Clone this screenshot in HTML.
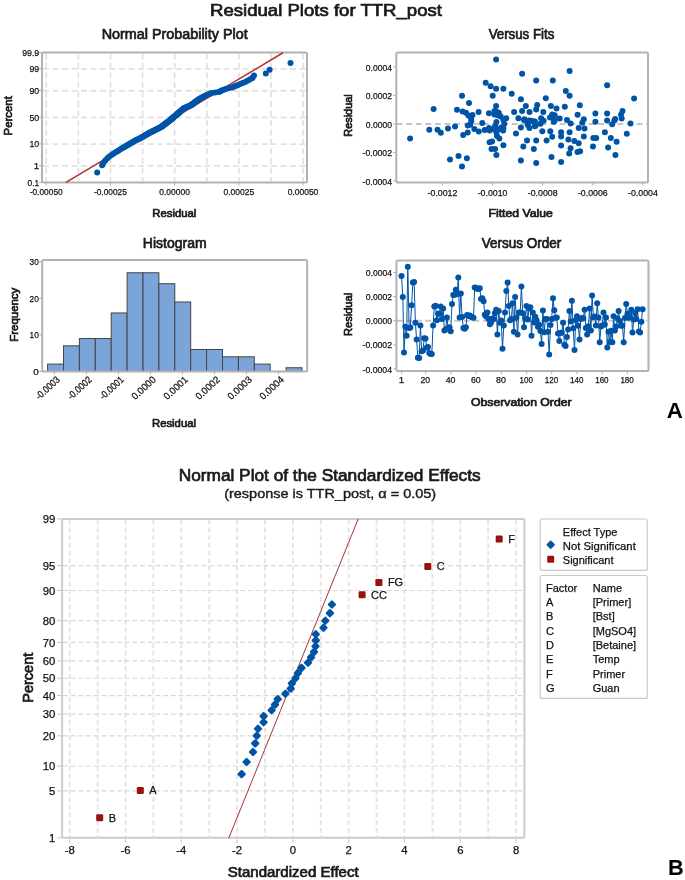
<!DOCTYPE html>
<html><head><meta charset="utf-8"><style>
html,body{margin:0;padding:0;background:#fff;}
body{width:685px;height:880px;overflow:hidden;}
svg{display:block;font-family:'Liberation Sans', sans-serif;will-change:transform;}
</style></head><body>
<svg width="685" height="880" viewBox="0 0 685 880">
<rect width="685" height="880" fill="#fff"/>
<text x="326.00" y="16.20" font-size="16.5" font-weight="normal" text-anchor="middle" fill="#1a1a1a" stroke="#1a1a1a" stroke-width="0.7" textLength="232" lengthAdjust="spacingAndGlyphs" >Residual Plots for TTR_post</text>
<text x="174.70" y="38.70" font-size="14" font-weight="normal" text-anchor="middle" fill="#1a1a1a" stroke="#1a1a1a" stroke-width="0.7" textLength="146" lengthAdjust="spacingAndGlyphs" >Normal Probability Plot</text>
<line x1="46.30" y1="53.5" x2="46.30" y2="181.5" stroke="#E0E0E0" stroke-width="1.6" stroke-dasharray="6 3.5"/>
<line x1="78.40" y1="53.5" x2="78.40" y2="181.5" stroke="#E0E0E0" stroke-width="1.6" stroke-dasharray="6 3.5"/>
<line x1="110.50" y1="53.5" x2="110.50" y2="181.5" stroke="#E0E0E0" stroke-width="1.6" stroke-dasharray="6 3.5"/>
<line x1="142.60" y1="53.5" x2="142.60" y2="181.5" stroke="#E0E0E0" stroke-width="1.6" stroke-dasharray="6 3.5"/>
<line x1="174.70" y1="53.5" x2="174.70" y2="181.5" stroke="#E0E0E0" stroke-width="1.6" stroke-dasharray="6 3.5"/>
<line x1="206.80" y1="53.5" x2="206.80" y2="181.5" stroke="#E0E0E0" stroke-width="1.6" stroke-dasharray="6 3.5"/>
<line x1="238.90" y1="53.5" x2="238.90" y2="181.5" stroke="#E0E0E0" stroke-width="1.6" stroke-dasharray="6 3.5"/>
<line x1="271.00" y1="53.5" x2="271.00" y2="181.5" stroke="#E0E0E0" stroke-width="1.6" stroke-dasharray="6 3.5"/>
<line x1="303.10" y1="53.5" x2="303.10" y2="181.5" stroke="#E0E0E0" stroke-width="1.6" stroke-dasharray="6 3.5"/>
<line x1="43" y1="68.90" x2="306" y2="68.90" stroke="#E2E2E2" stroke-width="1.9" stroke-dasharray="6 3.5"/>
<line x1="43" y1="90.68" x2="306" y2="90.68" stroke="#E2E2E2" stroke-width="1.9" stroke-dasharray="6 3.5"/>
<line x1="43" y1="117.40" x2="306" y2="117.40" stroke="#E2E2E2" stroke-width="1.9" stroke-dasharray="6 3.5"/>
<line x1="43" y1="144.12" x2="306" y2="144.12" stroke="#E2E2E2" stroke-width="1.9" stroke-dasharray="6 3.5"/>
<line x1="43" y1="165.90" x2="306" y2="165.90" stroke="#E2E2E2" stroke-width="1.9" stroke-dasharray="6 3.5"/>
<line x1="39" y1="52.50" x2="42" y2="52.50" stroke="#AAAAAA" stroke-width="1"/>
<text x="39.20" y="55.90" font-size="9.8" font-weight="normal" text-anchor="end" fill="#111" stroke="#111" stroke-width="0.25" textLength="17" lengthAdjust="spacingAndGlyphs" >99.9</text>
<line x1="39" y1="68.70" x2="42" y2="68.70" stroke="#AAAAAA" stroke-width="1"/>
<text x="39.20" y="72.10" font-size="9.8" font-weight="normal" text-anchor="end" fill="#111" stroke="#111" stroke-width="0.25" textLength="9.8" lengthAdjust="spacingAndGlyphs" >99</text>
<line x1="39" y1="90.48" x2="42" y2="90.48" stroke="#AAAAAA" stroke-width="1"/>
<text x="39.20" y="93.88" font-size="9.8" font-weight="normal" text-anchor="end" fill="#111" stroke="#111" stroke-width="0.25" textLength="9.8" lengthAdjust="spacingAndGlyphs" >90</text>
<line x1="39" y1="117.20" x2="42" y2="117.20" stroke="#AAAAAA" stroke-width="1"/>
<text x="39.20" y="120.60" font-size="9.8" font-weight="normal" text-anchor="end" fill="#111" stroke="#111" stroke-width="0.25" textLength="9.8" lengthAdjust="spacingAndGlyphs" >50</text>
<line x1="39" y1="143.92" x2="42" y2="143.92" stroke="#AAAAAA" stroke-width="1"/>
<text x="39.20" y="147.32" font-size="9.8" font-weight="normal" text-anchor="end" fill="#111" stroke="#111" stroke-width="0.25" textLength="9.8" lengthAdjust="spacingAndGlyphs" >10</text>
<line x1="39" y1="165.70" x2="42" y2="165.70" stroke="#AAAAAA" stroke-width="1"/>
<text x="39.20" y="169.10" font-size="9.8" font-weight="normal" text-anchor="end" fill="#111" stroke="#111" stroke-width="0.25" >1</text>
<line x1="39" y1="182.50" x2="42" y2="182.50" stroke="#AAAAAA" stroke-width="1"/>
<text x="39.20" y="185.90" font-size="9.8" font-weight="normal" text-anchor="end" fill="#111" stroke="#111" stroke-width="0.25" textLength="11.6" lengthAdjust="spacingAndGlyphs" >0.1</text>
<line x1="46.20" y1="182.5" x2="46.20" y2="185.5" stroke="#AAAAAA" stroke-width="1"/>
<text x="46.20" y="195.40" font-size="9.8" font-weight="normal" text-anchor="middle" fill="#111" stroke="#111" stroke-width="0.25" textLength="33" lengthAdjust="spacingAndGlyphs" >-0.00050</text>
<line x1="110.40" y1="182.5" x2="110.40" y2="185.5" stroke="#AAAAAA" stroke-width="1"/>
<text x="110.40" y="195.40" font-size="9.8" font-weight="normal" text-anchor="middle" fill="#111" stroke="#111" stroke-width="0.25" textLength="33" lengthAdjust="spacingAndGlyphs" >-0.00025</text>
<line x1="174.60" y1="182.5" x2="174.60" y2="185.5" stroke="#AAAAAA" stroke-width="1"/>
<text x="174.60" y="195.40" font-size="9.8" font-weight="normal" text-anchor="middle" fill="#111" stroke="#111" stroke-width="0.25" textLength="30.7" lengthAdjust="spacingAndGlyphs" >0.00000</text>
<line x1="238.80" y1="182.5" x2="238.80" y2="185.5" stroke="#AAAAAA" stroke-width="1"/>
<text x="238.80" y="195.40" font-size="9.8" font-weight="normal" text-anchor="middle" fill="#111" stroke="#111" stroke-width="0.25" textLength="30.7" lengthAdjust="spacingAndGlyphs" >0.00025</text>
<line x1="303.00" y1="182.5" x2="303.00" y2="185.5" stroke="#AAAAAA" stroke-width="1"/>
<text x="303.00" y="195.40" font-size="9.8" font-weight="normal" text-anchor="middle" fill="#111" stroke="#111" stroke-width="0.25" textLength="30.7" lengthAdjust="spacingAndGlyphs" >0.00050</text>
<text x="174.30" y="216.50" font-size="11" font-weight="normal" text-anchor="middle" fill="#1a1a1a" stroke="#1a1a1a" stroke-width="0.7" textLength="44" lengthAdjust="spacingAndGlyphs" >Residual</text>
<text x="12.00" y="115.80" font-size="11" font-weight="normal" text-anchor="middle" fill="#1a1a1a" stroke="#1a1a1a" stroke-width="0.7" textLength="39.2" lengthAdjust="spacingAndGlyphs" transform="rotate(-90 12 115.8)">Percent</text>
<rect x="42" y="52.5" width="265.00" height="130.00" rx="1.5" fill="none" stroke="#B2B2B2" stroke-width="2"/>
<line x1="66" y1="182.4" x2="283" y2="52.8" stroke="#B83232" stroke-width="1.6"/>
<g fill="#0054A6">
<circle cx="97.2" cy="172.4" r="3"/>
<circle cx="102.1" cy="165.2" r="3"/>
<circle cx="103.4" cy="163.0" r="3"/>
<circle cx="105.3" cy="160.4" r="3"/>
<circle cx="107.4" cy="158.3" r="3"/>
<circle cx="109.4" cy="156.5" r="3"/>
<circle cx="111.5" cy="155.0" r="3"/>
<circle cx="113.3" cy="153.7" r="3"/>
<circle cx="115.2" cy="152.5" r="3"/>
<circle cx="116.9" cy="151.4" r="3"/>
<circle cx="118.6" cy="150.4" r="3"/>
<circle cx="120.1" cy="149.5" r="3"/>
<circle cx="121.6" cy="148.6" r="3"/>
<circle cx="123.0" cy="147.8" r="3"/>
<circle cx="124.3" cy="147.0" r="3"/>
<circle cx="125.6" cy="146.3" r="3"/>
<circle cx="126.8" cy="145.6" r="3"/>
<circle cx="127.9" cy="144.9" r="3"/>
<circle cx="129.0" cy="144.3" r="3"/>
<circle cx="130.1" cy="143.6" r="3"/>
<circle cx="131.1" cy="143.0" r="3"/>
<circle cx="132.0" cy="142.5" r="3"/>
<circle cx="133.0" cy="141.9" r="3"/>
<circle cx="133.9" cy="141.4" r="3"/>
<circle cx="134.8" cy="140.8" r="3"/>
<circle cx="135.8" cy="140.3" r="3"/>
<circle cx="136.8" cy="139.8" r="3"/>
<circle cx="137.7" cy="139.4" r="3"/>
<circle cx="138.7" cy="138.9" r="3"/>
<circle cx="139.6" cy="138.4" r="3"/>
<circle cx="140.5" cy="138.0" r="3"/>
<circle cx="141.4" cy="137.5" r="3"/>
<circle cx="142.2" cy="137.1" r="3"/>
<circle cx="143.0" cy="136.7" r="3"/>
<circle cx="143.7" cy="136.3" r="3"/>
<circle cx="144.4" cy="135.8" r="3"/>
<circle cx="145.0" cy="135.4" r="3"/>
<circle cx="145.7" cy="135.1" r="3"/>
<circle cx="146.3" cy="134.7" r="3"/>
<circle cx="147.0" cy="134.3" r="3"/>
<circle cx="147.6" cy="133.9" r="3"/>
<circle cx="148.2" cy="133.5" r="3"/>
<circle cx="148.8" cy="133.2" r="3"/>
<circle cx="149.5" cy="132.8" r="3"/>
<circle cx="150.2" cy="132.4" r="3"/>
<circle cx="150.9" cy="132.1" r="3"/>
<circle cx="151.6" cy="131.7" r="3"/>
<circle cx="152.3" cy="131.4" r="3"/>
<circle cx="153.0" cy="131.1" r="3"/>
<circle cx="153.7" cy="130.7" r="3"/>
<circle cx="154.3" cy="130.4" r="3"/>
<circle cx="155.0" cy="130.1" r="3"/>
<circle cx="155.6" cy="129.7" r="3"/>
<circle cx="156.3" cy="129.4" r="3"/>
<circle cx="157.0" cy="129.1" r="3"/>
<circle cx="157.6" cy="128.8" r="3"/>
<circle cx="158.2" cy="128.5" r="3"/>
<circle cx="158.9" cy="128.1" r="3"/>
<circle cx="159.5" cy="127.8" r="3"/>
<circle cx="160.1" cy="127.5" r="3"/>
<circle cx="160.8" cy="127.2" r="3"/>
<circle cx="161.2" cy="126.9" r="3"/>
<circle cx="161.6" cy="126.6" r="3"/>
<circle cx="162.0" cy="126.3" r="3"/>
<circle cx="162.4" cy="126.0" r="3"/>
<circle cx="162.8" cy="125.7" r="3"/>
<circle cx="163.2" cy="125.4" r="3"/>
<circle cx="163.6" cy="125.1" r="3"/>
<circle cx="164.0" cy="124.8" r="3"/>
<circle cx="164.4" cy="124.5" r="3"/>
<circle cx="164.8" cy="124.3" r="3"/>
<circle cx="165.1" cy="124.0" r="3"/>
<circle cx="165.5" cy="123.7" r="3"/>
<circle cx="165.9" cy="123.4" r="3"/>
<circle cx="166.3" cy="123.1" r="3"/>
<circle cx="166.6" cy="122.8" r="3"/>
<circle cx="167.0" cy="122.6" r="3"/>
<circle cx="167.4" cy="122.3" r="3"/>
<circle cx="167.7" cy="122.0" r="3"/>
<circle cx="168.1" cy="121.7" r="3"/>
<circle cx="168.5" cy="121.4" r="3"/>
<circle cx="168.8" cy="121.2" r="3"/>
<circle cx="169.2" cy="120.9" r="3"/>
<circle cx="169.5" cy="120.6" r="3"/>
<circle cx="169.8" cy="120.3" r="3"/>
<circle cx="170.2" cy="120.1" r="3"/>
<circle cx="170.5" cy="119.8" r="3"/>
<circle cx="170.8" cy="119.5" r="3"/>
<circle cx="171.1" cy="119.2" r="3"/>
<circle cx="171.5" cy="119.0" r="3"/>
<circle cx="171.8" cy="118.7" r="3"/>
<circle cx="172.1" cy="118.4" r="3"/>
<circle cx="172.4" cy="118.2" r="3"/>
<circle cx="172.8" cy="117.9" r="3"/>
<circle cx="173.1" cy="117.6" r="3"/>
<circle cx="173.4" cy="117.3" r="3"/>
<circle cx="173.7" cy="117.1" r="3"/>
<circle cx="174.0" cy="116.8" r="3"/>
<circle cx="174.4" cy="116.5" r="3"/>
<circle cx="174.7" cy="116.2" r="3"/>
<circle cx="175.0" cy="116.0" r="3"/>
<circle cx="175.3" cy="115.7" r="3"/>
<circle cx="175.7" cy="115.4" r="3"/>
<circle cx="176.0" cy="115.2" r="3"/>
<circle cx="176.3" cy="114.9" r="3"/>
<circle cx="176.6" cy="114.6" r="3"/>
<circle cx="177.0" cy="114.3" r="3"/>
<circle cx="177.3" cy="114.1" r="3"/>
<circle cx="177.6" cy="113.8" r="3"/>
<circle cx="177.9" cy="113.5" r="3"/>
<circle cx="178.3" cy="113.2" r="3"/>
<circle cx="178.6" cy="113.0" r="3"/>
<circle cx="178.9" cy="112.7" r="3"/>
<circle cx="179.2" cy="112.4" r="3"/>
<circle cx="179.5" cy="112.1" r="3"/>
<circle cx="179.9" cy="111.8" r="3"/>
<circle cx="180.2" cy="111.6" r="3"/>
<circle cx="180.5" cy="111.3" r="3"/>
<circle cx="180.8" cy="111.0" r="3"/>
<circle cx="181.2" cy="110.7" r="3"/>
<circle cx="181.5" cy="110.4" r="3"/>
<circle cx="181.8" cy="110.1" r="3"/>
<circle cx="182.2" cy="109.9" r="3"/>
<circle cx="182.5" cy="109.6" r="3"/>
<circle cx="182.8" cy="109.3" r="3"/>
<circle cx="183.2" cy="109.0" r="3"/>
<circle cx="183.5" cy="108.7" r="3"/>
<circle cx="183.9" cy="108.4" r="3"/>
<circle cx="184.2" cy="108.1" r="3"/>
<circle cx="184.9" cy="107.8" r="3"/>
<circle cx="185.7" cy="107.5" r="3"/>
<circle cx="186.4" cy="107.2" r="3"/>
<circle cx="187.1" cy="106.9" r="3"/>
<circle cx="187.9" cy="106.6" r="3"/>
<circle cx="188.6" cy="106.3" r="3"/>
<circle cx="189.4" cy="105.9" r="3"/>
<circle cx="190.1" cy="105.6" r="3"/>
<circle cx="190.9" cy="105.3" r="3"/>
<circle cx="191.3" cy="105.0" r="3"/>
<circle cx="191.7" cy="104.7" r="3"/>
<circle cx="192.2" cy="104.3" r="3"/>
<circle cx="192.6" cy="104.0" r="3"/>
<circle cx="193.1" cy="103.7" r="3"/>
<circle cx="193.5" cy="103.3" r="3"/>
<circle cx="194.0" cy="103.0" r="3"/>
<circle cx="194.4" cy="102.7" r="3"/>
<circle cx="194.9" cy="102.3" r="3"/>
<circle cx="195.4" cy="102.0" r="3"/>
<circle cx="195.8" cy="101.6" r="3"/>
<circle cx="196.3" cy="101.2" r="3"/>
<circle cx="196.8" cy="100.9" r="3"/>
<circle cx="197.3" cy="100.5" r="3"/>
<circle cx="197.8" cy="100.1" r="3"/>
<circle cx="198.3" cy="99.7" r="3"/>
<circle cx="198.9" cy="99.3" r="3"/>
<circle cx="199.6" cy="99.0" r="3"/>
<circle cx="200.3" cy="98.6" r="3"/>
<circle cx="201.0" cy="98.1" r="3"/>
<circle cx="201.8" cy="97.7" r="3"/>
<circle cx="202.5" cy="97.3" r="3"/>
<circle cx="203.2" cy="96.9" r="3"/>
<circle cx="204.0" cy="96.4" r="3"/>
<circle cx="204.8" cy="96.0" r="3"/>
<circle cx="205.8" cy="95.5" r="3"/>
<circle cx="206.9" cy="95.0" r="3"/>
<circle cx="208.0" cy="94.6" r="3"/>
<circle cx="209.2" cy="94.1" r="3"/>
<circle cx="210.4" cy="93.6" r="3"/>
<circle cx="211.6" cy="93.0" r="3"/>
<circle cx="215.1" cy="92.5" r="3"/>
<circle cx="218.6" cy="91.9" r="3"/>
<circle cx="219.9" cy="91.4" r="3"/>
<circle cx="221.3" cy="90.8" r="3"/>
<circle cx="222.8" cy="90.1" r="3"/>
<circle cx="224.3" cy="89.5" r="3"/>
<circle cx="226.5" cy="88.8" r="3"/>
<circle cx="229.3" cy="88.1" r="3"/>
<circle cx="232.2" cy="87.4" r="3"/>
<circle cx="234.2" cy="86.6" r="3"/>
<circle cx="236.1" cy="85.8" r="3"/>
<circle cx="238.1" cy="84.9" r="3"/>
<circle cx="240.3" cy="84.0" r="3"/>
<circle cx="242.6" cy="83.0" r="3"/>
<circle cx="245.2" cy="81.9" r="3"/>
<circle cx="247.5" cy="80.7" r="3"/>
<circle cx="249.8" cy="79.4" r="3"/>
<circle cx="252.4" cy="77.9" r="3"/>
<circle cx="252.5" cy="77.8" r="3"/>
<circle cx="254.0" cy="75.5" r="3"/>
<circle cx="265.8" cy="73.6" r="3"/>
<circle cx="269.6" cy="69.8" r="3"/>
<circle cx="290.5" cy="63.0" r="3"/>
</g>
<text x="521.50" y="38.70" font-size="14" font-weight="normal" text-anchor="middle" fill="#1a1a1a" stroke="#1a1a1a" stroke-width="0.7" textLength="65.7" lengthAdjust="spacingAndGlyphs" >Versus Fits</text>
<line x1="393.3" y1="66.90" x2="396.3" y2="66.90" stroke="#AAAAAA" stroke-width="1"/>
<text x="392.00" y="70.50" font-size="9.8" font-weight="normal" text-anchor="end" fill="#111" stroke="#111" stroke-width="0.25" textLength="26.2" lengthAdjust="spacingAndGlyphs" >0.0004</text>
<line x1="393.3" y1="95.40" x2="396.3" y2="95.40" stroke="#AAAAAA" stroke-width="1"/>
<text x="392.00" y="99.00" font-size="9.8" font-weight="normal" text-anchor="end" fill="#111" stroke="#111" stroke-width="0.25" textLength="26.2" lengthAdjust="spacingAndGlyphs" >0.0002</text>
<line x1="393.3" y1="123.90" x2="396.3" y2="123.90" stroke="#AAAAAA" stroke-width="1"/>
<text x="392.00" y="127.50" font-size="9.8" font-weight="normal" text-anchor="end" fill="#111" stroke="#111" stroke-width="0.25" textLength="26.2" lengthAdjust="spacingAndGlyphs" >0.0000</text>
<line x1="393.3" y1="152.40" x2="396.3" y2="152.40" stroke="#AAAAAA" stroke-width="1"/>
<text x="392.00" y="156.00" font-size="9.8" font-weight="normal" text-anchor="end" fill="#111" stroke="#111" stroke-width="0.25" textLength="29.5" lengthAdjust="spacingAndGlyphs" >-0.0002</text>
<line x1="393.3" y1="180.90" x2="396.3" y2="180.90" stroke="#AAAAAA" stroke-width="1"/>
<text x="392.00" y="184.50" font-size="9.8" font-weight="normal" text-anchor="end" fill="#111" stroke="#111" stroke-width="0.25" textLength="29.5" lengthAdjust="spacingAndGlyphs" >-0.0004</text>
<line x1="442.50" y1="182.5" x2="442.50" y2="185.5" stroke="#AAAAAA" stroke-width="1"/>
<text x="442.50" y="195.50" font-size="9.8" font-weight="normal" text-anchor="middle" fill="#111" stroke="#111" stroke-width="0.25" textLength="29.8" lengthAdjust="spacingAndGlyphs" >-0.0012</text>
<line x1="492.60" y1="182.5" x2="492.60" y2="185.5" stroke="#AAAAAA" stroke-width="1"/>
<text x="492.60" y="195.50" font-size="9.8" font-weight="normal" text-anchor="middle" fill="#111" stroke="#111" stroke-width="0.25" textLength="29.8" lengthAdjust="spacingAndGlyphs" >-0.0010</text>
<line x1="542.70" y1="182.5" x2="542.70" y2="185.5" stroke="#AAAAAA" stroke-width="1"/>
<text x="542.70" y="195.50" font-size="9.8" font-weight="normal" text-anchor="middle" fill="#111" stroke="#111" stroke-width="0.25" textLength="29.8" lengthAdjust="spacingAndGlyphs" >-0.0008</text>
<line x1="592.80" y1="182.5" x2="592.80" y2="185.5" stroke="#AAAAAA" stroke-width="1"/>
<text x="592.80" y="195.50" font-size="9.8" font-weight="normal" text-anchor="middle" fill="#111" stroke="#111" stroke-width="0.25" textLength="29.8" lengthAdjust="spacingAndGlyphs" >-0.0006</text>
<line x1="642.90" y1="182.5" x2="642.90" y2="185.5" stroke="#AAAAAA" stroke-width="1"/>
<text x="642.90" y="195.50" font-size="9.8" font-weight="normal" text-anchor="middle" fill="#111" stroke="#111" stroke-width="0.25" textLength="29.8" lengthAdjust="spacingAndGlyphs" >-0.0004</text>
<text x="520.70" y="216.80" font-size="11" font-weight="normal" text-anchor="middle" fill="#1a1a1a" stroke="#1a1a1a" stroke-width="0.7" textLength="64.4" lengthAdjust="spacingAndGlyphs" >Fitted Value</text>
<text x="352.00" y="115.50" font-size="11" font-weight="normal" text-anchor="middle" fill="#1a1a1a" stroke="#1a1a1a" stroke-width="0.7" textLength="42.5" lengthAdjust="spacingAndGlyphs" transform="rotate(-90 352 115.5)">Residual</text>
<line x1="396.6" y1="123.90" x2="647" y2="123.90" stroke="#C4C4C4" stroke-width="2" stroke-dasharray="5.8 3.8"/>
<rect x="396.3" y="52.5" width="251.70" height="130.00" rx="1.5" fill="none" stroke="#B2B2B2" stroke-width="2"/>
<g fill="#0054A6">
<circle cx="433.6" cy="108.9" r="3"/>
<circle cx="462.0" cy="95.8" r="3"/>
<circle cx="469.0" cy="103.0" r="3"/>
<circle cx="457.0" cy="109.8" r="3"/>
<circle cx="462.6" cy="111.6" r="3"/>
<circle cx="466.0" cy="112.7" r="3"/>
<circle cx="468.4" cy="115.6" r="3"/>
<circle cx="472.5" cy="115.0" r="3"/>
<circle cx="471.3" cy="120.9" r="3"/>
<circle cx="467.8" cy="125.6" r="3"/>
<circle cx="455.0" cy="126.4" r="3"/>
<circle cx="448.0" cy="128.5" r="3"/>
<circle cx="429.3" cy="129.7" r="3"/>
<circle cx="437.5" cy="129.7" r="3"/>
<circle cx="474.3" cy="129.0" r="3"/>
<circle cx="410.1" cy="138.4" r="3"/>
<circle cx="440.8" cy="132.7" r="3"/>
<circle cx="463.2" cy="134.9" r="3"/>
<circle cx="467.7" cy="132.4" r="3"/>
<circle cx="470.2" cy="124.7" r="3"/>
<circle cx="478.8" cy="131.5" r="3"/>
<circle cx="450.0" cy="159.4" r="3"/>
<circle cx="458.5" cy="156.0" r="3"/>
<circle cx="466.9" cy="158.2" r="3"/>
<circle cx="462.0" cy="166.4" r="3"/>
<circle cx="496.1" cy="59.6" r="3"/>
<circle cx="522.1" cy="73.7" r="3"/>
<circle cx="536.2" cy="80.6" r="3"/>
<circle cx="552.8" cy="80.6" r="3"/>
<circle cx="485.7" cy="82.7" r="3"/>
<circle cx="490.6" cy="86.3" r="3"/>
<circle cx="496.1" cy="88.8" r="3"/>
<circle cx="503.4" cy="88.8" r="3"/>
<circle cx="511.7" cy="93.7" r="3"/>
<circle cx="492.7" cy="95.8" r="3"/>
<circle cx="520.9" cy="99.2" r="3"/>
<circle cx="545.8" cy="98.2" r="3"/>
<circle cx="496.1" cy="106.0" r="3"/>
<circle cx="525.8" cy="106.0" r="3"/>
<circle cx="537.2" cy="105.0" r="3"/>
<circle cx="550.9" cy="106.0" r="3"/>
<circle cx="478.6" cy="112.1" r="3"/>
<circle cx="489.0" cy="113.3" r="3"/>
<circle cx="494.5" cy="110.9" r="3"/>
<circle cx="498.8" cy="112.7" r="3"/>
<circle cx="514.1" cy="112.1" r="3"/>
<circle cx="522.1" cy="110.9" r="3"/>
<circle cx="529.5" cy="112.1" r="3"/>
<circle cx="536.2" cy="109.6" r="3"/>
<circle cx="543.3" cy="112.1" r="3"/>
<circle cx="494.5" cy="114.5" r="3"/>
<circle cx="500.7" cy="116.4" r="3"/>
<circle cx="506.2" cy="118.2" r="3"/>
<circle cx="518.4" cy="118.2" r="3"/>
<circle cx="524.0" cy="120.0" r="3"/>
<circle cx="531.3" cy="120.7" r="3"/>
<circle cx="541.1" cy="118.2" r="3"/>
<circle cx="543.6" cy="120.7" r="3"/>
<circle cx="482.3" cy="123.1" r="3"/>
<circle cx="496.4" cy="121.9" r="3"/>
<circle cx="552.2" cy="114.5" r="3"/>
<circle cx="484.7" cy="130.0" r="3"/>
<circle cx="489.0" cy="128.1" r="3"/>
<circle cx="489.6" cy="130.6" r="3"/>
<circle cx="494.5" cy="128.7" r="3"/>
<circle cx="496.4" cy="132.4" r="3"/>
<circle cx="497.0" cy="136.1" r="3"/>
<circle cx="499.4" cy="138.5" r="3"/>
<circle cx="501.3" cy="127.5" r="3"/>
<circle cx="503.1" cy="130.6" r="3"/>
<circle cx="504.3" cy="123.8" r="3"/>
<circle cx="489.6" cy="142.2" r="3"/>
<circle cx="492.1" cy="141.6" r="3"/>
<circle cx="491.5" cy="149.0" r="3"/>
<circle cx="495.1" cy="149.0" r="3"/>
<circle cx="496.4" cy="155.1" r="3"/>
<circle cx="503.4" cy="145.3" r="3"/>
<circle cx="516.0" cy="133.6" r="3"/>
<circle cx="520.9" cy="127.5" r="3"/>
<circle cx="527.6" cy="123.8" r="3"/>
<circle cx="529.5" cy="128.1" r="3"/>
<circle cx="533.8" cy="121.4" r="3"/>
<circle cx="535.6" cy="125.6" r="3"/>
<circle cx="540.5" cy="123.8" r="3"/>
<circle cx="542.3" cy="131.2" r="3"/>
<circle cx="550.3" cy="131.2" r="3"/>
<circle cx="552.2" cy="136.7" r="3"/>
<circle cx="527.0" cy="140.4" r="3"/>
<circle cx="536.2" cy="140.4" r="3"/>
<circle cx="546.6" cy="140.4" r="3"/>
<circle cx="523.3" cy="146.5" r="3"/>
<circle cx="533.8" cy="149.0" r="3"/>
<circle cx="520.9" cy="160.6" r="3"/>
<circle cx="536.2" cy="163.0" r="3"/>
<circle cx="551.5" cy="156.9" r="3"/>
<circle cx="569.6" cy="71.0" r="3"/>
<circle cx="607.1" cy="85.3" r="3"/>
<circle cx="565.8" cy="91.1" r="3"/>
<circle cx="569.6" cy="95.8" r="3"/>
<circle cx="634.1" cy="98.4" r="3"/>
<circle cx="556.5" cy="108.6" r="3"/>
<circle cx="564.8" cy="106.7" r="3"/>
<circle cx="579.8" cy="105.3" r="3"/>
<circle cx="553.8" cy="115.5" r="3"/>
<circle cx="559.7" cy="118.4" r="3"/>
<circle cx="553.8" cy="121.8" r="3"/>
<circle cx="567.0" cy="119.9" r="3"/>
<circle cx="570.6" cy="123.5" r="3"/>
<circle cx="577.6" cy="114.8" r="3"/>
<circle cx="583.8" cy="119.2" r="3"/>
<circle cx="582.3" cy="122.8" r="3"/>
<circle cx="595.4" cy="113.6" r="3"/>
<circle cx="595.4" cy="121.8" r="3"/>
<circle cx="607.1" cy="113.6" r="3"/>
<circle cx="607.1" cy="120.6" r="3"/>
<circle cx="614.4" cy="120.6" r="3"/>
<circle cx="612.2" cy="124.3" r="3"/>
<circle cx="622.5" cy="111.1" r="3"/>
<circle cx="621.0" cy="114.8" r="3"/>
<circle cx="621.7" cy="118.4" r="3"/>
<circle cx="630.5" cy="123.5" r="3"/>
<circle cx="561.1" cy="132.2" r="3"/>
<circle cx="561.1" cy="136.6" r="3"/>
<circle cx="569.6" cy="132.2" r="3"/>
<circle cx="568.4" cy="139.5" r="3"/>
<circle cx="574.3" cy="141.0" r="3"/>
<circle cx="578.7" cy="143.2" r="3"/>
<circle cx="583.8" cy="136.6" r="3"/>
<circle cx="578.7" cy="127.9" r="3"/>
<circle cx="584.5" cy="128.6" r="3"/>
<circle cx="561.1" cy="145.4" r="3"/>
<circle cx="570.6" cy="148.3" r="3"/>
<circle cx="569.2" cy="153.4" r="3"/>
<circle cx="580.1" cy="151.2" r="3"/>
<circle cx="577.5" cy="152.0" r="3"/>
<circle cx="561.1" cy="161.9" r="3"/>
<circle cx="593.3" cy="138.1" r="3"/>
<circle cx="596.2" cy="138.1" r="3"/>
<circle cx="593.0" cy="146.4" r="3"/>
<circle cx="604.9" cy="132.2" r="3"/>
<circle cx="610.8" cy="138.1" r="3"/>
<circle cx="616.6" cy="141.7" r="3"/>
<circle cx="608.1" cy="147.6" r="3"/>
<circle cx="615.4" cy="154.9" r="3"/>
<circle cx="626.8" cy="133.7" r="3"/>
<circle cx="615.2" cy="119.1" r="3"/>
<circle cx="471.2" cy="118.8" r="3"/>
<circle cx="524.4" cy="119.3" r="3"/>
<circle cx="529.0" cy="120.4" r="3"/>
<circle cx="534.9" cy="121.6" r="3"/>
<circle cx="527.9" cy="125.1" r="3"/>
<circle cx="534.9" cy="126.3" r="3"/>
<circle cx="495.2" cy="125.7" r="3"/>
<circle cx="503.4" cy="128.0" r="3"/>
<circle cx="498.7" cy="129.2" r="3"/>
<circle cx="491.7" cy="129.2" r="3"/>
<circle cx="503.4" cy="119.9" r="3"/>
<circle cx="497.5" cy="115.2" r="3"/>
<circle cx="496.4" cy="111.7" r="3"/>
<circle cx="550.0" cy="117.5" r="3"/>
<circle cx="554.7" cy="115.2" r="3"/>
<circle cx="554.7" cy="120.4" r="3"/>
</g>
<text x="174.70" y="248.10" font-size="14" font-weight="normal" text-anchor="middle" fill="#1a1a1a" stroke="#1a1a1a" stroke-width="0.7" textLength="63.8" lengthAdjust="spacingAndGlyphs" >Histogram</text>
<line x1="39.2" y1="371.40" x2="42.2" y2="371.40" stroke="#AAAAAA" stroke-width="1"/>
<text x="38.80" y="374.80" font-size="9.8" font-weight="normal" text-anchor="end" fill="#111" stroke="#111" stroke-width="0.25" >0</text>
<line x1="39.2" y1="334.87" x2="42.2" y2="334.87" stroke="#AAAAAA" stroke-width="1"/>
<text x="38.80" y="338.27" font-size="9.8" font-weight="normal" text-anchor="end" fill="#111" stroke="#111" stroke-width="0.25" textLength="9.2" lengthAdjust="spacingAndGlyphs" >10</text>
<line x1="39.2" y1="298.34" x2="42.2" y2="298.34" stroke="#AAAAAA" stroke-width="1"/>
<text x="38.80" y="301.74" font-size="9.8" font-weight="normal" text-anchor="end" fill="#111" stroke="#111" stroke-width="0.25" textLength="9.2" lengthAdjust="spacingAndGlyphs" >20</text>
<line x1="39.2" y1="261.81" x2="42.2" y2="261.81" stroke="#AAAAAA" stroke-width="1"/>
<text x="38.80" y="265.21" font-size="9.8" font-weight="normal" text-anchor="end" fill="#111" stroke="#111" stroke-width="0.25" textLength="9.2" lengthAdjust="spacingAndGlyphs" >30</text>
<rect x="47.60" y="364.09" width="15.90" height="7.31" fill="#7BA4D9" stroke="#454545" stroke-width="1"/>
<rect x="63.50" y="345.83" width="15.90" height="25.57" fill="#7BA4D9" stroke="#454545" stroke-width="1"/>
<rect x="79.40" y="338.52" width="15.90" height="32.88" fill="#7BA4D9" stroke="#454545" stroke-width="1"/>
<rect x="95.30" y="338.52" width="15.90" height="32.88" fill="#7BA4D9" stroke="#454545" stroke-width="1"/>
<rect x="111.20" y="312.95" width="15.90" height="58.45" fill="#7BA4D9" stroke="#454545" stroke-width="1"/>
<rect x="127.10" y="272.77" width="15.90" height="98.63" fill="#7BA4D9" stroke="#454545" stroke-width="1"/>
<rect x="143.00" y="272.77" width="15.90" height="98.63" fill="#7BA4D9" stroke="#454545" stroke-width="1"/>
<rect x="158.90" y="283.73" width="15.90" height="87.67" fill="#7BA4D9" stroke="#454545" stroke-width="1"/>
<rect x="174.80" y="301.99" width="15.90" height="69.41" fill="#7BA4D9" stroke="#454545" stroke-width="1"/>
<rect x="190.70" y="349.48" width="15.90" height="21.92" fill="#7BA4D9" stroke="#454545" stroke-width="1"/>
<rect x="206.60" y="349.48" width="15.90" height="21.92" fill="#7BA4D9" stroke="#454545" stroke-width="1"/>
<rect x="222.50" y="356.79" width="15.90" height="14.61" fill="#7BA4D9" stroke="#454545" stroke-width="1"/>
<rect x="238.40" y="356.79" width="15.90" height="14.61" fill="#7BA4D9" stroke="#454545" stroke-width="1"/>
<rect x="254.30" y="364.09" width="15.90" height="7.31" fill="#7BA4D9" stroke="#454545" stroke-width="1"/>
<rect x="286.10" y="367.75" width="15.90" height="3.65" fill="#7BA4D9" stroke="#454545" stroke-width="1"/>
<rect x="42.2" y="260.1" width="265.00" height="111.30" rx="1.5" fill="none" stroke="#B2B2B2" stroke-width="2"/>
<line x1="54.50" y1="371.4" x2="54.50" y2="374.4" stroke="#AAAAAA" stroke-width="1"/>
<text x="60.50" y="380.50" font-size="9.8" font-weight="normal" text-anchor="end" fill="#111" stroke="#111" stroke-width="0.25" textLength="29" lengthAdjust="spacingAndGlyphs" transform="rotate(-43 60.50 380.5)">-0.0003</text>
<line x1="86.50" y1="371.4" x2="86.50" y2="374.4" stroke="#AAAAAA" stroke-width="1"/>
<text x="92.50" y="380.50" font-size="9.8" font-weight="normal" text-anchor="end" fill="#111" stroke="#111" stroke-width="0.25" textLength="29" lengthAdjust="spacingAndGlyphs" transform="rotate(-43 92.50 380.5)">-0.0002</text>
<line x1="118.50" y1="371.4" x2="118.50" y2="374.4" stroke="#AAAAAA" stroke-width="1"/>
<text x="124.50" y="380.50" font-size="9.8" font-weight="normal" text-anchor="end" fill="#111" stroke="#111" stroke-width="0.25" textLength="29" lengthAdjust="spacingAndGlyphs" transform="rotate(-43 124.50 380.5)">-0.0001</text>
<line x1="150.50" y1="371.4" x2="150.50" y2="374.4" stroke="#AAAAAA" stroke-width="1"/>
<text x="156.50" y="380.50" font-size="9.8" font-weight="normal" text-anchor="end" fill="#111" stroke="#111" stroke-width="0.25" textLength="29" lengthAdjust="spacingAndGlyphs" transform="rotate(-43 156.50 380.5)">0.0000</text>
<line x1="182.50" y1="371.4" x2="182.50" y2="374.4" stroke="#AAAAAA" stroke-width="1"/>
<text x="188.50" y="380.50" font-size="9.8" font-weight="normal" text-anchor="end" fill="#111" stroke="#111" stroke-width="0.25" textLength="29" lengthAdjust="spacingAndGlyphs" transform="rotate(-43 188.50 380.5)">0.0001</text>
<line x1="214.50" y1="371.4" x2="214.50" y2="374.4" stroke="#AAAAAA" stroke-width="1"/>
<text x="220.50" y="380.50" font-size="9.8" font-weight="normal" text-anchor="end" fill="#111" stroke="#111" stroke-width="0.25" textLength="29" lengthAdjust="spacingAndGlyphs" transform="rotate(-43 220.50 380.5)">0.0002</text>
<line x1="246.50" y1="371.4" x2="246.50" y2="374.4" stroke="#AAAAAA" stroke-width="1"/>
<text x="252.50" y="380.50" font-size="9.8" font-weight="normal" text-anchor="end" fill="#111" stroke="#111" stroke-width="0.25" textLength="29" lengthAdjust="spacingAndGlyphs" transform="rotate(-43 252.50 380.5)">0.0003</text>
<line x1="278.50" y1="371.4" x2="278.50" y2="374.4" stroke="#AAAAAA" stroke-width="1"/>
<text x="284.50" y="380.50" font-size="9.8" font-weight="normal" text-anchor="end" fill="#111" stroke="#111" stroke-width="0.25" textLength="29" lengthAdjust="spacingAndGlyphs" transform="rotate(-43 284.50 380.5)">0.0004</text>
<text x="174.00" y="427.20" font-size="11" font-weight="normal" text-anchor="middle" fill="#1a1a1a" stroke="#1a1a1a" stroke-width="0.7" textLength="44" lengthAdjust="spacingAndGlyphs" >Residual</text>
<text x="18.40" y="314.70" font-size="11" font-weight="normal" text-anchor="middle" fill="#1a1a1a" stroke="#1a1a1a" stroke-width="0.7" textLength="54" lengthAdjust="spacingAndGlyphs" transform="rotate(-90 18.4 314.7)">Frequency</text>
<text x="521.50" y="247.90" font-size="14" font-weight="normal" text-anchor="middle" fill="#1a1a1a" stroke="#1a1a1a" stroke-width="0.7" textLength="79.5" lengthAdjust="spacingAndGlyphs" >Versus Order</text>
<line x1="393.4" y1="272.50" x2="396.4" y2="272.50" stroke="#AAAAAA" stroke-width="1"/>
<text x="392.00" y="276.10" font-size="9.8" font-weight="normal" text-anchor="end" fill="#111" stroke="#111" stroke-width="0.25" textLength="26.2" lengthAdjust="spacingAndGlyphs" >0.0004</text>
<line x1="393.4" y1="296.60" x2="396.4" y2="296.60" stroke="#AAAAAA" stroke-width="1"/>
<text x="392.00" y="300.20" font-size="9.8" font-weight="normal" text-anchor="end" fill="#111" stroke="#111" stroke-width="0.25" textLength="26.2" lengthAdjust="spacingAndGlyphs" >0.0002</text>
<line x1="393.4" y1="320.70" x2="396.4" y2="320.70" stroke="#AAAAAA" stroke-width="1"/>
<text x="392.00" y="324.30" font-size="9.8" font-weight="normal" text-anchor="end" fill="#111" stroke="#111" stroke-width="0.25" textLength="26.2" lengthAdjust="spacingAndGlyphs" >0.0000</text>
<line x1="393.4" y1="344.80" x2="396.4" y2="344.80" stroke="#AAAAAA" stroke-width="1"/>
<text x="392.00" y="348.40" font-size="9.8" font-weight="normal" text-anchor="end" fill="#111" stroke="#111" stroke-width="0.25" textLength="29.5" lengthAdjust="spacingAndGlyphs" >-0.0002</text>
<line x1="393.4" y1="368.90" x2="396.4" y2="368.90" stroke="#AAAAAA" stroke-width="1"/>
<text x="392.00" y="372.50" font-size="9.8" font-weight="normal" text-anchor="end" fill="#111" stroke="#111" stroke-width="0.25" textLength="29.5" lengthAdjust="spacingAndGlyphs" >-0.0004</text>
<line x1="401.70" y1="371" x2="401.70" y2="374" stroke="#AAAAAA" stroke-width="1"/>
<text x="401.40" y="383.20" font-size="9.8" font-weight="normal" text-anchor="middle" fill="#111" stroke="#111" stroke-width="0.25" >1</text>
<line x1="425.66" y1="371" x2="425.66" y2="374" stroke="#AAAAAA" stroke-width="1"/>
<text x="425.36" y="383.20" font-size="9.8" font-weight="normal" text-anchor="middle" fill="#111" stroke="#111" stroke-width="0.25" textLength="9.8" lengthAdjust="spacingAndGlyphs" >20</text>
<line x1="450.88" y1="371" x2="450.88" y2="374" stroke="#AAAAAA" stroke-width="1"/>
<text x="450.58" y="383.20" font-size="9.8" font-weight="normal" text-anchor="middle" fill="#111" stroke="#111" stroke-width="0.25" textLength="9.8" lengthAdjust="spacingAndGlyphs" >40</text>
<line x1="476.10" y1="371" x2="476.10" y2="374" stroke="#AAAAAA" stroke-width="1"/>
<text x="475.80" y="383.20" font-size="9.8" font-weight="normal" text-anchor="middle" fill="#111" stroke="#111" stroke-width="0.25" textLength="9.8" lengthAdjust="spacingAndGlyphs" >60</text>
<line x1="501.32" y1="371" x2="501.32" y2="374" stroke="#AAAAAA" stroke-width="1"/>
<text x="501.02" y="383.20" font-size="9.8" font-weight="normal" text-anchor="middle" fill="#111" stroke="#111" stroke-width="0.25" textLength="9.8" lengthAdjust="spacingAndGlyphs" >80</text>
<line x1="526.54" y1="371" x2="526.54" y2="374" stroke="#AAAAAA" stroke-width="1"/>
<text x="526.24" y="383.20" font-size="9.8" font-weight="normal" text-anchor="middle" fill="#111" stroke="#111" stroke-width="0.25" textLength="13.4" lengthAdjust="spacingAndGlyphs" >100</text>
<line x1="551.76" y1="371" x2="551.76" y2="374" stroke="#AAAAAA" stroke-width="1"/>
<text x="551.46" y="383.20" font-size="9.8" font-weight="normal" text-anchor="middle" fill="#111" stroke="#111" stroke-width="0.25" textLength="13.4" lengthAdjust="spacingAndGlyphs" >120</text>
<line x1="576.98" y1="371" x2="576.98" y2="374" stroke="#AAAAAA" stroke-width="1"/>
<text x="576.68" y="383.20" font-size="9.8" font-weight="normal" text-anchor="middle" fill="#111" stroke="#111" stroke-width="0.25" textLength="13.4" lengthAdjust="spacingAndGlyphs" >140</text>
<line x1="602.20" y1="371" x2="602.20" y2="374" stroke="#AAAAAA" stroke-width="1"/>
<text x="601.90" y="383.20" font-size="9.8" font-weight="normal" text-anchor="middle" fill="#111" stroke="#111" stroke-width="0.25" textLength="13.4" lengthAdjust="spacingAndGlyphs" >160</text>
<line x1="627.42" y1="371" x2="627.42" y2="374" stroke="#AAAAAA" stroke-width="1"/>
<text x="627.12" y="383.20" font-size="9.8" font-weight="normal" text-anchor="middle" fill="#111" stroke="#111" stroke-width="0.25" textLength="13.4" lengthAdjust="spacingAndGlyphs" >180</text>
<text x="521.30" y="406.10" font-size="11" font-weight="normal" text-anchor="middle" fill="#1a1a1a" stroke="#1a1a1a" stroke-width="0.7" textLength="100.6" lengthAdjust="spacingAndGlyphs" >Observation Order</text>
<text x="352.00" y="314.40" font-size="11" font-weight="normal" text-anchor="middle" fill="#1a1a1a" stroke="#1a1a1a" stroke-width="0.7" textLength="43.2" lengthAdjust="spacingAndGlyphs" transform="rotate(-90 352 314.4)">Residual</text>
<line x1="396.7" y1="320.70" x2="647.5" y2="320.70" stroke="#C4C4C4" stroke-width="2" stroke-dasharray="5.8 3.8"/>
<rect x="396.4" y="260.4" width="252.10" height="110.60" rx="1.5" fill="none" stroke="#B2B2B2" stroke-width="2"/>
<polyline fill="none" stroke="#0054A6" stroke-width="1" points="401.5,275.9 402.8,296.9 404.0,352.6 405.3,326.7 406.6,335.7 407.8,266.8 409.1,328.0 410.3,327.6 411.6,305.3 412.9,282.6 414.1,281.9 415.4,322.8 416.6,339.6 417.9,357.7 419.2,358.0 420.4,325.4 421.7,351.3 423.0,350.4 424.2,338.3 425.5,338.4 426.8,347.4 428.0,347.1 429.3,353.0 430.5,353.9 431.8,353.9 433.1,325.4 434.3,306.6 435.6,305.7 436.9,320.2 438.1,313.7 439.4,313.6 440.6,306.6 441.9,318.9 443.2,308.5 444.4,330.5 445.7,329.6 446.9,317.6 448.2,328.0 449.5,327.2 450.7,331.2 452.0,304.0 453.3,294.9 454.5,294.7 455.8,289.7 457.1,294.3 458.3,277.4 459.6,317.6 460.8,293.6 462.1,316.9 463.4,328.0 464.6,328.7 465.9,327.2 467.1,315.0 468.4,315.9 469.7,315.6 470.9,316.5 472.2,317.6 473.5,317.8 474.7,287.6 476.0,287.8 477.2,288.8 478.5,289.1 479.8,288.2 481.0,298.9 482.3,298.2 483.6,301.3 484.8,314.7 486.1,316.6 487.4,312.4 488.6,318.9 489.9,324.2 491.1,322.6 492.4,318.4 493.7,318.9 494.9,313.3 496.2,309.8 497.4,334.4 498.7,311.1 500.0,322.8 501.2,320.6 502.5,348.7 503.8,325.4 505.0,312.4 506.3,291.0 507.6,282.6 508.8,306.0 510.1,320.2 511.3,319.1 512.6,303.3 513.9,331.8 515.1,296.9 516.4,317.7 517.6,334.4 518.9,312.4 520.2,312.4 521.4,286.5 522.7,313.3 524.0,327.3 525.2,318.5 526.5,305.9 527.8,319.6 529.0,308.6 530.3,307.2 531.5,335.7 532.8,312.4 534.1,322.4 535.3,316.8 536.6,320.2 537.9,326.7 539.1,324.7 540.4,331.0 541.6,344.1 542.9,310.5 544.2,332.2 545.4,319.0 546.7,318.9 548.0,331.8 549.2,354.5 550.5,324.9 551.7,318.9 553.0,298.2 554.3,310.2 555.5,317.8 556.8,317.6 558.0,333.5 559.3,340.9 560.6,332.8 561.8,332.8 563.1,322.8 564.4,344.8 565.6,346.0 566.9,337.0 568.1,329.5 569.4,311.1 570.7,321.5 571.9,300.7 573.2,328.2 574.5,350.0 575.7,320.2 577.0,316.3 578.2,325.8 579.5,339.6 580.8,318.9 582.0,318.0 583.3,318.2 584.6,309.8 585.8,328.0 587.1,334.4 588.4,326.3 589.6,308.5 590.9,330.5 592.1,295.6 593.4,317.2 594.7,316.4 595.9,325.4 597.2,303.3 598.5,317.6 599.7,342.2 601.0,326.6 602.2,325.4 603.5,312.4 604.8,324.5 606.0,317.6 607.3,347.4 608.5,331.8 609.8,341.9 611.1,330.7 612.3,342.2 613.6,316.3 614.9,330.5 616.1,326.6 617.4,318.5 618.6,311.1 619.9,321.1 621.2,325.8 622.4,325.4 623.7,342.2 625.0,317.9 626.2,304.0 627.5,313.7 628.8,317.8 630.0,316.7 631.3,309.8 632.5,332.5 633.8,319.6 635.1,313.1 636.3,318.9 637.6,309.2 638.9,331.4 640.1,332.5 641.4,321.7 642.6,309.2"/>
<g fill="#0054A6">
<circle cx="401.5" cy="275.9" r="3"/>
<circle cx="402.8" cy="296.9" r="3"/>
<circle cx="404.0" cy="352.6" r="3"/>
<circle cx="405.3" cy="326.7" r="3"/>
<circle cx="406.6" cy="335.7" r="3"/>
<circle cx="407.8" cy="266.8" r="3"/>
<circle cx="409.1" cy="328.0" r="3"/>
<circle cx="410.3" cy="327.6" r="3"/>
<circle cx="411.6" cy="305.3" r="3"/>
<circle cx="412.9" cy="282.6" r="3"/>
<circle cx="414.1" cy="281.9" r="3"/>
<circle cx="415.4" cy="322.8" r="3"/>
<circle cx="416.6" cy="339.6" r="3"/>
<circle cx="417.9" cy="357.7" r="3"/>
<circle cx="419.2" cy="358.0" r="3"/>
<circle cx="420.4" cy="325.4" r="3"/>
<circle cx="421.7" cy="351.3" r="3"/>
<circle cx="423.0" cy="350.4" r="3"/>
<circle cx="424.2" cy="338.3" r="3"/>
<circle cx="425.5" cy="338.4" r="3"/>
<circle cx="426.8" cy="347.4" r="3"/>
<circle cx="428.0" cy="347.1" r="3"/>
<circle cx="429.3" cy="353.0" r="3"/>
<circle cx="430.5" cy="353.9" r="3"/>
<circle cx="431.8" cy="353.9" r="3"/>
<circle cx="433.1" cy="325.4" r="3"/>
<circle cx="434.3" cy="306.6" r="3"/>
<circle cx="435.6" cy="305.7" r="3"/>
<circle cx="436.9" cy="320.2" r="3"/>
<circle cx="438.1" cy="313.7" r="3"/>
<circle cx="439.4" cy="313.6" r="3"/>
<circle cx="440.6" cy="306.6" r="3"/>
<circle cx="441.9" cy="318.9" r="3"/>
<circle cx="443.2" cy="308.5" r="3"/>
<circle cx="444.4" cy="330.5" r="3"/>
<circle cx="445.7" cy="329.6" r="3"/>
<circle cx="446.9" cy="317.6" r="3"/>
<circle cx="448.2" cy="328.0" r="3"/>
<circle cx="449.5" cy="327.2" r="3"/>
<circle cx="450.7" cy="331.2" r="3"/>
<circle cx="452.0" cy="304.0" r="3"/>
<circle cx="453.3" cy="294.9" r="3"/>
<circle cx="454.5" cy="294.7" r="3"/>
<circle cx="455.8" cy="289.7" r="3"/>
<circle cx="457.1" cy="294.3" r="3"/>
<circle cx="458.3" cy="277.4" r="3"/>
<circle cx="459.6" cy="317.6" r="3"/>
<circle cx="460.8" cy="293.6" r="3"/>
<circle cx="462.1" cy="316.9" r="3"/>
<circle cx="463.4" cy="328.0" r="3"/>
<circle cx="464.6" cy="328.7" r="3"/>
<circle cx="465.9" cy="327.2" r="3"/>
<circle cx="467.1" cy="315.0" r="3"/>
<circle cx="468.4" cy="315.9" r="3"/>
<circle cx="469.7" cy="315.6" r="3"/>
<circle cx="470.9" cy="316.5" r="3"/>
<circle cx="472.2" cy="317.6" r="3"/>
<circle cx="473.5" cy="317.8" r="3"/>
<circle cx="474.7" cy="287.6" r="3"/>
<circle cx="476.0" cy="287.8" r="3"/>
<circle cx="477.2" cy="288.8" r="3"/>
<circle cx="478.5" cy="289.1" r="3"/>
<circle cx="479.8" cy="288.2" r="3"/>
<circle cx="481.0" cy="298.9" r="3"/>
<circle cx="482.3" cy="298.2" r="3"/>
<circle cx="483.6" cy="301.3" r="3"/>
<circle cx="484.8" cy="314.7" r="3"/>
<circle cx="486.1" cy="316.6" r="3"/>
<circle cx="487.4" cy="312.4" r="3"/>
<circle cx="488.6" cy="318.9" r="3"/>
<circle cx="489.9" cy="324.2" r="3"/>
<circle cx="491.1" cy="322.6" r="3"/>
<circle cx="492.4" cy="318.4" r="3"/>
<circle cx="493.7" cy="318.9" r="3"/>
<circle cx="494.9" cy="313.3" r="3"/>
<circle cx="496.2" cy="309.8" r="3"/>
<circle cx="497.4" cy="334.4" r="3"/>
<circle cx="498.7" cy="311.1" r="3"/>
<circle cx="500.0" cy="322.8" r="3"/>
<circle cx="501.2" cy="320.6" r="3"/>
<circle cx="502.5" cy="348.7" r="3"/>
<circle cx="503.8" cy="325.4" r="3"/>
<circle cx="505.0" cy="312.4" r="3"/>
<circle cx="506.3" cy="291.0" r="3"/>
<circle cx="507.6" cy="282.6" r="3"/>
<circle cx="508.8" cy="306.0" r="3"/>
<circle cx="510.1" cy="320.2" r="3"/>
<circle cx="511.3" cy="319.1" r="3"/>
<circle cx="512.6" cy="303.3" r="3"/>
<circle cx="513.9" cy="331.8" r="3"/>
<circle cx="515.1" cy="296.9" r="3"/>
<circle cx="516.4" cy="317.7" r="3"/>
<circle cx="517.6" cy="334.4" r="3"/>
<circle cx="518.9" cy="312.4" r="3"/>
<circle cx="520.2" cy="312.4" r="3"/>
<circle cx="521.4" cy="286.5" r="3"/>
<circle cx="522.7" cy="313.3" r="3"/>
<circle cx="524.0" cy="327.3" r="3"/>
<circle cx="525.2" cy="318.5" r="3"/>
<circle cx="526.5" cy="305.9" r="3"/>
<circle cx="527.8" cy="319.6" r="3"/>
<circle cx="529.0" cy="308.6" r="3"/>
<circle cx="530.3" cy="307.2" r="3"/>
<circle cx="531.5" cy="335.7" r="3"/>
<circle cx="532.8" cy="312.4" r="3"/>
<circle cx="534.1" cy="322.4" r="3"/>
<circle cx="535.3" cy="316.8" r="3"/>
<circle cx="536.6" cy="320.2" r="3"/>
<circle cx="537.9" cy="326.7" r="3"/>
<circle cx="539.1" cy="324.7" r="3"/>
<circle cx="540.4" cy="331.0" r="3"/>
<circle cx="541.6" cy="344.1" r="3"/>
<circle cx="542.9" cy="310.5" r="3"/>
<circle cx="544.2" cy="332.2" r="3"/>
<circle cx="545.4" cy="319.0" r="3"/>
<circle cx="546.7" cy="318.9" r="3"/>
<circle cx="548.0" cy="331.8" r="3"/>
<circle cx="549.2" cy="354.5" r="3"/>
<circle cx="550.5" cy="324.9" r="3"/>
<circle cx="551.7" cy="318.9" r="3"/>
<circle cx="553.0" cy="298.2" r="3"/>
<circle cx="554.3" cy="310.2" r="3"/>
<circle cx="555.5" cy="317.8" r="3"/>
<circle cx="556.8" cy="317.6" r="3"/>
<circle cx="558.0" cy="333.5" r="3"/>
<circle cx="559.3" cy="340.9" r="3"/>
<circle cx="560.6" cy="332.8" r="3"/>
<circle cx="561.8" cy="332.8" r="3"/>
<circle cx="563.1" cy="322.8" r="3"/>
<circle cx="564.4" cy="344.8" r="3"/>
<circle cx="565.6" cy="346.0" r="3"/>
<circle cx="566.9" cy="337.0" r="3"/>
<circle cx="568.1" cy="329.5" r="3"/>
<circle cx="569.4" cy="311.1" r="3"/>
<circle cx="570.7" cy="321.5" r="3"/>
<circle cx="571.9" cy="300.7" r="3"/>
<circle cx="573.2" cy="328.2" r="3"/>
<circle cx="574.5" cy="350.0" r="3"/>
<circle cx="575.7" cy="320.2" r="3"/>
<circle cx="577.0" cy="316.3" r="3"/>
<circle cx="578.2" cy="325.8" r="3"/>
<circle cx="579.5" cy="339.6" r="3"/>
<circle cx="580.8" cy="318.9" r="3"/>
<circle cx="582.0" cy="318.0" r="3"/>
<circle cx="583.3" cy="318.2" r="3"/>
<circle cx="584.6" cy="309.8" r="3"/>
<circle cx="585.8" cy="328.0" r="3"/>
<circle cx="587.1" cy="334.4" r="3"/>
<circle cx="588.4" cy="326.3" r="3"/>
<circle cx="589.6" cy="308.5" r="3"/>
<circle cx="590.9" cy="330.5" r="3"/>
<circle cx="592.1" cy="295.6" r="3"/>
<circle cx="593.4" cy="317.2" r="3"/>
<circle cx="594.7" cy="316.4" r="3"/>
<circle cx="595.9" cy="325.4" r="3"/>
<circle cx="597.2" cy="303.3" r="3"/>
<circle cx="598.5" cy="317.6" r="3"/>
<circle cx="599.7" cy="342.2" r="3"/>
<circle cx="601.0" cy="326.6" r="3"/>
<circle cx="602.2" cy="325.4" r="3"/>
<circle cx="603.5" cy="312.4" r="3"/>
<circle cx="604.8" cy="324.5" r="3"/>
<circle cx="606.0" cy="317.6" r="3"/>
<circle cx="607.3" cy="347.4" r="3"/>
<circle cx="608.5" cy="331.8" r="3"/>
<circle cx="609.8" cy="341.9" r="3"/>
<circle cx="611.1" cy="330.7" r="3"/>
<circle cx="612.3" cy="342.2" r="3"/>
<circle cx="613.6" cy="316.3" r="3"/>
<circle cx="614.9" cy="330.5" r="3"/>
<circle cx="616.1" cy="326.6" r="3"/>
<circle cx="617.4" cy="318.5" r="3"/>
<circle cx="618.6" cy="311.1" r="3"/>
<circle cx="619.9" cy="321.1" r="3"/>
<circle cx="621.2" cy="325.8" r="3"/>
<circle cx="622.4" cy="325.4" r="3"/>
<circle cx="623.7" cy="342.2" r="3"/>
<circle cx="625.0" cy="317.9" r="3"/>
<circle cx="626.2" cy="304.0" r="3"/>
<circle cx="627.5" cy="313.7" r="3"/>
<circle cx="628.8" cy="317.8" r="3"/>
<circle cx="630.0" cy="316.7" r="3"/>
<circle cx="631.3" cy="309.8" r="3"/>
<circle cx="632.5" cy="332.5" r="3"/>
<circle cx="633.8" cy="319.6" r="3"/>
<circle cx="635.1" cy="313.1" r="3"/>
<circle cx="636.3" cy="318.9" r="3"/>
<circle cx="637.6" cy="309.2" r="3"/>
<circle cx="638.9" cy="331.4" r="3"/>
<circle cx="640.1" cy="332.5" r="3"/>
<circle cx="641.4" cy="321.7" r="3"/>
<circle cx="642.6" cy="309.2" r="3"/>
</g>
<text x="666.80" y="417.90" font-size="22.3" font-weight="bold" text-anchor="start" fill="#000" >A</text>
<text x="329.70" y="480.80" font-size="16.8" font-weight="normal" text-anchor="middle" fill="#1a1a1a" stroke="#1a1a1a" stroke-width="0.7" textLength="302" lengthAdjust="spacingAndGlyphs" >Normal Plot of the Standardized Effects</text>
<text x="330.20" y="497.60" font-size="13.5" font-weight="normal" text-anchor="middle" fill="#1a1a1a" stroke="#1a1a1a" stroke-width="0.4" textLength="212" lengthAdjust="spacingAndGlyphs" >(response is TTR_post, &#945; = 0.05)</text>
<line x1="69.70" y1="519.9" x2="69.70" y2="836.8" stroke="#E4E4E4" stroke-width="1.9" stroke-dasharray="4.8 2.9"/>
<line x1="97.60" y1="519.9" x2="97.60" y2="836.8" stroke="#E4E4E4" stroke-width="1.9" stroke-dasharray="4.8 2.9"/>
<line x1="125.50" y1="519.9" x2="125.50" y2="836.8" stroke="#E4E4E4" stroke-width="1.9" stroke-dasharray="4.8 2.9"/>
<line x1="153.40" y1="519.9" x2="153.40" y2="836.8" stroke="#E4E4E4" stroke-width="1.9" stroke-dasharray="4.8 2.9"/>
<line x1="181.30" y1="519.9" x2="181.30" y2="836.8" stroke="#E4E4E4" stroke-width="1.9" stroke-dasharray="4.8 2.9"/>
<line x1="209.20" y1="519.9" x2="209.20" y2="836.8" stroke="#E4E4E4" stroke-width="1.9" stroke-dasharray="4.8 2.9"/>
<line x1="237.10" y1="519.9" x2="237.10" y2="836.8" stroke="#E4E4E4" stroke-width="1.9" stroke-dasharray="4.8 2.9"/>
<line x1="265.00" y1="519.9" x2="265.00" y2="836.8" stroke="#E4E4E4" stroke-width="1.9" stroke-dasharray="4.8 2.9"/>
<line x1="292.90" y1="519.9" x2="292.90" y2="836.8" stroke="#E4E4E4" stroke-width="1.9" stroke-dasharray="4.8 2.9"/>
<line x1="320.80" y1="519.9" x2="320.80" y2="836.8" stroke="#E4E4E4" stroke-width="1.9" stroke-dasharray="4.8 2.9"/>
<line x1="348.70" y1="519.9" x2="348.70" y2="836.8" stroke="#E4E4E4" stroke-width="1.9" stroke-dasharray="4.8 2.9"/>
<line x1="376.60" y1="519.9" x2="376.60" y2="836.8" stroke="#E4E4E4" stroke-width="1.9" stroke-dasharray="4.8 2.9"/>
<line x1="404.50" y1="519.9" x2="404.50" y2="836.8" stroke="#E4E4E4" stroke-width="1.9" stroke-dasharray="4.8 2.9"/>
<line x1="432.40" y1="519.9" x2="432.40" y2="836.8" stroke="#E4E4E4" stroke-width="1.9" stroke-dasharray="4.8 2.9"/>
<line x1="460.30" y1="519.9" x2="460.30" y2="836.8" stroke="#E4E4E4" stroke-width="1.9" stroke-dasharray="4.8 2.9"/>
<line x1="488.20" y1="519.9" x2="488.20" y2="836.8" stroke="#E4E4E4" stroke-width="1.9" stroke-dasharray="4.8 2.9"/>
<line x1="516.10" y1="519.9" x2="516.10" y2="836.8" stroke="#E4E4E4" stroke-width="1.9" stroke-dasharray="4.8 2.9"/>
<line x1="63.1" y1="565.58" x2="523.4" y2="565.58" stroke="#D8D8D8" stroke-width="1.1" stroke-dasharray="4.8 2.9"/>
<line x1="63.1" y1="590.46" x2="523.4" y2="590.46" stroke="#D8D8D8" stroke-width="1.1" stroke-dasharray="4.8 2.9"/>
<line x1="63.1" y1="620.60" x2="523.4" y2="620.60" stroke="#D8D8D8" stroke-width="1.1" stroke-dasharray="4.8 2.9"/>
<line x1="63.1" y1="642.33" x2="523.4" y2="642.33" stroke="#D8D8D8" stroke-width="1.1" stroke-dasharray="4.8 2.9"/>
<line x1="63.1" y1="660.90" x2="523.4" y2="660.90" stroke="#D8D8D8" stroke-width="1.1" stroke-dasharray="4.8 2.9"/>
<line x1="63.1" y1="678.25" x2="523.4" y2="678.25" stroke="#D8D8D8" stroke-width="1.1" stroke-dasharray="4.8 2.9"/>
<line x1="63.1" y1="695.60" x2="523.4" y2="695.60" stroke="#D8D8D8" stroke-width="1.1" stroke-dasharray="4.8 2.9"/>
<line x1="63.1" y1="714.17" x2="523.4" y2="714.17" stroke="#D8D8D8" stroke-width="1.1" stroke-dasharray="4.8 2.9"/>
<line x1="63.1" y1="735.90" x2="523.4" y2="735.90" stroke="#D8D8D8" stroke-width="1.1" stroke-dasharray="4.8 2.9"/>
<line x1="63.1" y1="766.04" x2="523.4" y2="766.04" stroke="#D8D8D8" stroke-width="1.1" stroke-dasharray="4.8 2.9"/>
<line x1="63.1" y1="790.92" x2="523.4" y2="790.92" stroke="#D8D8D8" stroke-width="1.1" stroke-dasharray="4.8 2.9"/>
<line x1="57.1" y1="518.90" x2="62.1" y2="518.90" stroke="#C4C4C4" stroke-width="1"/>
<text x="55.40" y="523.10" font-size="11.3" font-weight="normal" text-anchor="end" fill="#111" stroke="#111" stroke-width="0.25" >99</text>
<line x1="57.1" y1="565.58" x2="62.1" y2="565.58" stroke="#C4C4C4" stroke-width="1"/>
<text x="55.40" y="569.78" font-size="11.3" font-weight="normal" text-anchor="end" fill="#111" stroke="#111" stroke-width="0.25" >95</text>
<line x1="57.1" y1="590.46" x2="62.1" y2="590.46" stroke="#C4C4C4" stroke-width="1"/>
<text x="55.40" y="594.66" font-size="11.3" font-weight="normal" text-anchor="end" fill="#111" stroke="#111" stroke-width="0.25" >90</text>
<line x1="57.1" y1="620.60" x2="62.1" y2="620.60" stroke="#C4C4C4" stroke-width="1"/>
<text x="55.40" y="624.80" font-size="11.3" font-weight="normal" text-anchor="end" fill="#111" stroke="#111" stroke-width="0.25" >80</text>
<line x1="57.1" y1="642.33" x2="62.1" y2="642.33" stroke="#C4C4C4" stroke-width="1"/>
<text x="55.40" y="646.53" font-size="11.3" font-weight="normal" text-anchor="end" fill="#111" stroke="#111" stroke-width="0.25" >70</text>
<line x1="57.1" y1="660.90" x2="62.1" y2="660.90" stroke="#C4C4C4" stroke-width="1"/>
<text x="55.40" y="665.10" font-size="11.3" font-weight="normal" text-anchor="end" fill="#111" stroke="#111" stroke-width="0.25" >60</text>
<line x1="57.1" y1="678.25" x2="62.1" y2="678.25" stroke="#C4C4C4" stroke-width="1"/>
<text x="55.40" y="682.45" font-size="11.3" font-weight="normal" text-anchor="end" fill="#111" stroke="#111" stroke-width="0.25" >50</text>
<line x1="57.1" y1="695.60" x2="62.1" y2="695.60" stroke="#C4C4C4" stroke-width="1"/>
<text x="55.40" y="699.80" font-size="11.3" font-weight="normal" text-anchor="end" fill="#111" stroke="#111" stroke-width="0.25" >40</text>
<line x1="57.1" y1="714.17" x2="62.1" y2="714.17" stroke="#C4C4C4" stroke-width="1"/>
<text x="55.40" y="718.37" font-size="11.3" font-weight="normal" text-anchor="end" fill="#111" stroke="#111" stroke-width="0.25" >30</text>
<line x1="57.1" y1="735.90" x2="62.1" y2="735.90" stroke="#C4C4C4" stroke-width="1"/>
<text x="55.40" y="740.10" font-size="11.3" font-weight="normal" text-anchor="end" fill="#111" stroke="#111" stroke-width="0.25" >20</text>
<line x1="57.1" y1="766.04" x2="62.1" y2="766.04" stroke="#C4C4C4" stroke-width="1"/>
<text x="55.40" y="770.24" font-size="11.3" font-weight="normal" text-anchor="end" fill="#111" stroke="#111" stroke-width="0.25" >10</text>
<line x1="57.1" y1="790.92" x2="62.1" y2="790.92" stroke="#C4C4C4" stroke-width="1"/>
<text x="55.40" y="795.12" font-size="11.3" font-weight="normal" text-anchor="end" fill="#111" stroke="#111" stroke-width="0.25" >5</text>
<line x1="57.1" y1="837.80" x2="62.1" y2="837.80" stroke="#C4C4C4" stroke-width="1"/>
<text x="55.40" y="842.00" font-size="11.3" font-weight="normal" text-anchor="end" fill="#111" stroke="#111" stroke-width="0.25" >1</text>
<line x1="69.70" y1="837.8" x2="69.70" y2="842.8" stroke="#C4C4C4" stroke-width="1"/>
<text x="69.70" y="854.40" font-size="11.3" font-weight="normal" text-anchor="middle" fill="#111" stroke="#111" stroke-width="0.25" >-8</text>
<line x1="125.50" y1="837.8" x2="125.50" y2="842.8" stroke="#C4C4C4" stroke-width="1"/>
<text x="125.50" y="854.40" font-size="11.3" font-weight="normal" text-anchor="middle" fill="#111" stroke="#111" stroke-width="0.25" >-6</text>
<line x1="181.30" y1="837.8" x2="181.30" y2="842.8" stroke="#C4C4C4" stroke-width="1"/>
<text x="181.30" y="854.40" font-size="11.3" font-weight="normal" text-anchor="middle" fill="#111" stroke="#111" stroke-width="0.25" >-4</text>
<line x1="237.10" y1="837.8" x2="237.10" y2="842.8" stroke="#C4C4C4" stroke-width="1"/>
<text x="237.10" y="854.40" font-size="11.3" font-weight="normal" text-anchor="middle" fill="#111" stroke="#111" stroke-width="0.25" >-2</text>
<line x1="292.90" y1="837.8" x2="292.90" y2="842.8" stroke="#C4C4C4" stroke-width="1"/>
<text x="292.90" y="854.40" font-size="11.3" font-weight="normal" text-anchor="middle" fill="#111" stroke="#111" stroke-width="0.25" >0</text>
<line x1="348.70" y1="837.8" x2="348.70" y2="842.8" stroke="#C4C4C4" stroke-width="1"/>
<text x="348.70" y="854.40" font-size="11.3" font-weight="normal" text-anchor="middle" fill="#111" stroke="#111" stroke-width="0.25" >2</text>
<line x1="404.50" y1="837.8" x2="404.50" y2="842.8" stroke="#C4C4C4" stroke-width="1"/>
<text x="404.50" y="854.40" font-size="11.3" font-weight="normal" text-anchor="middle" fill="#111" stroke="#111" stroke-width="0.25" >4</text>
<line x1="460.30" y1="837.8" x2="460.30" y2="842.8" stroke="#C4C4C4" stroke-width="1"/>
<text x="460.30" y="854.40" font-size="11.3" font-weight="normal" text-anchor="middle" fill="#111" stroke="#111" stroke-width="0.25" >6</text>
<line x1="516.10" y1="837.8" x2="516.10" y2="842.8" stroke="#C4C4C4" stroke-width="1"/>
<text x="516.10" y="854.40" font-size="11.3" font-weight="normal" text-anchor="middle" fill="#111" stroke="#111" stroke-width="0.25" >8</text>
<rect x="62.1" y="518.9" width="462.30" height="318.90" rx="1.5" fill="none" stroke="#CCCCCC" stroke-width="2"/>
<text x="293.20" y="877.00" font-size="14" font-weight="normal" text-anchor="middle" fill="#1a1a1a" stroke="#1a1a1a" stroke-width="0.7" textLength="131" lengthAdjust="spacingAndGlyphs" >Standardized Effect</text>
<text x="33.20" y="677.70" font-size="14.3" font-weight="normal" text-anchor="middle" fill="#1a1a1a" stroke="#1a1a1a" stroke-width="0.7" textLength="50" lengthAdjust="spacingAndGlyphs" transform="rotate(-90 33.2 677.7)">Percent</text>
<line x1="228.8" y1="838" x2="358.2" y2="519" stroke="#A83232" stroke-width="1"/>
<rect x="96.2" y="814.3" width="7" height="7" rx="1.2" fill="#981212"/>
<text x="108.70" y="821.60" font-size="11" font-weight="normal" text-anchor="start" fill="#111" stroke="#111" stroke-width="0.25" >B</text>
<rect x="136.8" y="787.0" width="7" height="7" rx="1.2" fill="#981212"/>
<text x="149.30" y="794.33" font-size="11" font-weight="normal" text-anchor="start" fill="#111" stroke="#111" stroke-width="0.25" >A</text>
<path d="M241.6 771.1 L244.6 774.1 L241.6 777.1 L238.6 774.1Z" fill="#0054A6" stroke="#0054A6" stroke-width="2.3" stroke-linejoin="round"/>
<path d="M246.6 759.0 L249.6 762.0 L246.6 765.0 L243.6 762.0Z" fill="#0054A6" stroke="#0054A6" stroke-width="2.3" stroke-linejoin="round"/>
<path d="M253.0 749.0 L256.0 752.0 L253.0 755.0 L250.0 752.0Z" fill="#0054A6" stroke="#0054A6" stroke-width="2.3" stroke-linejoin="round"/>
<path d="M255.2 740.4 L258.2 743.4 L255.2 746.4 L252.2 743.4Z" fill="#0054A6" stroke="#0054A6" stroke-width="2.3" stroke-linejoin="round"/>
<path d="M256.8 732.8 L259.8 735.8 L256.8 738.8 L253.8 735.8Z" fill="#0054A6" stroke="#0054A6" stroke-width="2.3" stroke-linejoin="round"/>
<path d="M258.0 725.7 L261.0 728.7 L258.0 731.7 L255.0 728.7Z" fill="#0054A6" stroke="#0054A6" stroke-width="2.3" stroke-linejoin="round"/>
<path d="M263.6 719.2 L266.6 722.2 L263.6 725.2 L260.6 722.2Z" fill="#0054A6" stroke="#0054A6" stroke-width="2.3" stroke-linejoin="round"/>
<path d="M263.6 713.1 L266.6 716.1 L263.6 719.1 L260.6 716.1Z" fill="#0054A6" stroke="#0054A6" stroke-width="2.3" stroke-linejoin="round"/>
<path d="M271.6 707.2 L274.6 710.2 L271.6 713.2 L268.6 710.2Z" fill="#0054A6" stroke="#0054A6" stroke-width="2.3" stroke-linejoin="round"/>
<path d="M275.0 701.6 L278.0 704.6 L275.0 707.6 L272.0 704.6Z" fill="#0054A6" stroke="#0054A6" stroke-width="2.3" stroke-linejoin="round"/>
<path d="M277.7 696.1 L280.7 699.1 L277.7 702.1 L274.7 699.1Z" fill="#0054A6" stroke="#0054A6" stroke-width="2.3" stroke-linejoin="round"/>
<path d="M285.4 690.8 L288.4 693.8 L285.4 696.8 L282.4 693.8Z" fill="#0054A6" stroke="#0054A6" stroke-width="2.3" stroke-linejoin="round"/>
<path d="M290.7 685.6 L293.7 688.6 L290.7 691.6 L287.7 688.6Z" fill="#0054A6" stroke="#0054A6" stroke-width="2.3" stroke-linejoin="round"/>
<path d="M291.9 680.4 L294.9 683.4 L291.9 686.4 L288.9 683.4Z" fill="#0054A6" stroke="#0054A6" stroke-width="2.3" stroke-linejoin="round"/>
<path d="M295.5 675.2 L298.5 678.2 L295.5 681.2 L292.5 678.2Z" fill="#0054A6" stroke="#0054A6" stroke-width="2.3" stroke-linejoin="round"/>
<path d="M297.9 670.1 L300.9 673.1 L297.9 676.1 L294.9 673.1Z" fill="#0054A6" stroke="#0054A6" stroke-width="2.3" stroke-linejoin="round"/>
<path d="M301.5 664.9 L304.5 667.9 L301.5 670.9 L298.5 667.9Z" fill="#0054A6" stroke="#0054A6" stroke-width="2.3" stroke-linejoin="round"/>
<path d="M308.0 659.7 L311.0 662.7 L308.0 665.7 L305.0 662.7Z" fill="#0054A6" stroke="#0054A6" stroke-width="2.3" stroke-linejoin="round"/>
<path d="M311.0 654.4 L314.0 657.4 L311.0 660.4 L308.0 657.4Z" fill="#0054A6" stroke="#0054A6" stroke-width="2.3" stroke-linejoin="round"/>
<path d="M314.0 648.9 L317.0 651.9 L314.0 654.9 L311.0 651.9Z" fill="#0054A6" stroke="#0054A6" stroke-width="2.3" stroke-linejoin="round"/>
<path d="M315.5 643.3 L318.5 646.3 L315.5 649.3 L312.5 646.3Z" fill="#0054A6" stroke="#0054A6" stroke-width="2.3" stroke-linejoin="round"/>
<path d="M315.8 637.4 L318.8 640.4 L315.8 643.4 L312.8 640.4Z" fill="#0054A6" stroke="#0054A6" stroke-width="2.3" stroke-linejoin="round"/>
<path d="M315.8 631.3 L318.8 634.3 L315.8 637.3 L312.8 634.3Z" fill="#0054A6" stroke="#0054A6" stroke-width="2.3" stroke-linejoin="round"/>
<path d="M323.5 624.8 L326.5 627.8 L323.5 630.8 L320.5 627.8Z" fill="#0054A6" stroke="#0054A6" stroke-width="2.3" stroke-linejoin="round"/>
<path d="M325.3 617.7 L328.3 620.7 L325.3 623.7 L322.3 620.7Z" fill="#0054A6" stroke="#0054A6" stroke-width="2.3" stroke-linejoin="round"/>
<path d="M329.9 610.1 L332.9 613.1 L329.9 616.1 L326.9 613.1Z" fill="#0054A6" stroke="#0054A6" stroke-width="2.3" stroke-linejoin="round"/>
<path d="M331.9 601.5 L334.9 604.5 L331.9 607.5 L328.9 604.5Z" fill="#0054A6" stroke="#0054A6" stroke-width="2.3" stroke-linejoin="round"/>
<rect x="358.6" y="591.2" width="7" height="7" rx="1.2" fill="#981212"/>
<text x="371.10" y="598.52" font-size="11" font-weight="normal" text-anchor="start" fill="#111" stroke="#111" stroke-width="0.25" >CC</text>
<rect x="375.4" y="579.1" width="7" height="7" rx="1.2" fill="#981212"/>
<text x="387.90" y="586.39" font-size="11" font-weight="normal" text-anchor="start" fill="#111" stroke="#111" stroke-width="0.25" >FG</text>
<rect x="424.3" y="562.9" width="7" height="7" rx="1.2" fill="#981212"/>
<text x="436.80" y="570.17" font-size="11" font-weight="normal" text-anchor="start" fill="#111" stroke="#111" stroke-width="0.25" >C</text>
<rect x="495.7" y="535.6" width="7" height="7" rx="1.2" fill="#981212"/>
<text x="508.20" y="542.90" font-size="11" font-weight="normal" text-anchor="start" fill="#111" stroke="#111" stroke-width="0.25" >F</text>
<rect x="540.2" y="519" width="107" height="51.4" rx="2" fill="#fff" stroke="#C8C8C8" stroke-width="1.2"/>
<rect x="540.2" y="575.5" width="107" height="122.9" rx="2" fill="#fff" stroke="#C8C8C8" stroke-width="1.2"/>
<text x="562.80" y="535.80" font-size="11" font-weight="normal" text-anchor="start" fill="#111" stroke="#111" stroke-width="0.25" >Effect Type</text>
<path d="M550.7 541.7 L553.7 544.7 L550.7 547.7 L547.7 544.7Z" fill="#0054A6" stroke="#0054A6" stroke-width="2.3" stroke-linejoin="round"/>
<text x="562.80" y="549.60" font-size="11" font-weight="normal" text-anchor="start" fill="#111" stroke="#111" stroke-width="0.25" textLength="73" lengthAdjust="spacingAndGlyphs" >Not Significant</text>
<rect x="547.2" y="555.8" width="7" height="7" rx="1.2" fill="#981212"/>
<text x="562.80" y="563.90" font-size="11" font-weight="normal" text-anchor="start" fill="#111" stroke="#111" stroke-width="0.25" >Significant</text>
<text x="546.00" y="591.90" font-size="11" font-weight="normal" text-anchor="start" fill="#111" stroke="#111" stroke-width="0.25" >Factor</text>
<text x="592.70" y="591.90" font-size="11" font-weight="normal" text-anchor="start" fill="#111" stroke="#111" stroke-width="0.25" >Name</text>
<text x="546.00" y="605.90" font-size="11" font-weight="normal" text-anchor="start" fill="#111" stroke="#111" stroke-width="0.25" >A</text>
<text x="592.70" y="605.90" font-size="11" font-weight="normal" text-anchor="start" fill="#111" stroke="#111" stroke-width="0.25" >[Primer]</text>
<text x="546.00" y="620.23" font-size="11" font-weight="normal" text-anchor="start" fill="#111" stroke="#111" stroke-width="0.25" >B</text>
<text x="592.70" y="620.23" font-size="11" font-weight="normal" text-anchor="start" fill="#111" stroke="#111" stroke-width="0.25" >[Bst]</text>
<text x="546.00" y="634.56" font-size="11" font-weight="normal" text-anchor="start" fill="#111" stroke="#111" stroke-width="0.25" >C</text>
<text x="592.70" y="634.56" font-size="11" font-weight="normal" text-anchor="start" fill="#111" stroke="#111" stroke-width="0.25" >[MgSO4]</text>
<text x="546.00" y="648.89" font-size="11" font-weight="normal" text-anchor="start" fill="#111" stroke="#111" stroke-width="0.25" >D</text>
<text x="592.70" y="648.89" font-size="11" font-weight="normal" text-anchor="start" fill="#111" stroke="#111" stroke-width="0.25" >[Betaine]</text>
<text x="546.00" y="663.22" font-size="11" font-weight="normal" text-anchor="start" fill="#111" stroke="#111" stroke-width="0.25" >E</text>
<text x="592.70" y="663.22" font-size="11" font-weight="normal" text-anchor="start" fill="#111" stroke="#111" stroke-width="0.25" >Temp</text>
<text x="546.00" y="677.55" font-size="11" font-weight="normal" text-anchor="start" fill="#111" stroke="#111" stroke-width="0.25" >F</text>
<text x="592.70" y="677.55" font-size="11" font-weight="normal" text-anchor="start" fill="#111" stroke="#111" stroke-width="0.25" >Primer</text>
<text x="546.00" y="691.88" font-size="11" font-weight="normal" text-anchor="start" fill="#111" stroke="#111" stroke-width="0.25" >G</text>
<text x="592.70" y="691.88" font-size="11" font-weight="normal" text-anchor="start" fill="#111" stroke="#111" stroke-width="0.25" >Guan</text>
<text x="667.90" y="874.80" font-size="21.8" font-weight="bold" text-anchor="start" fill="#000" >B</text>
</svg>
</body></html>
